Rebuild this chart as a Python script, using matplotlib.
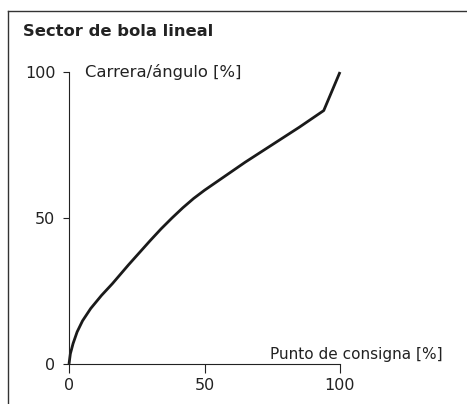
import matplotlib
matplotlib.use("Agg")
import matplotlib.pyplot as plt
from matplotlib.lines import Line2D

# Data
setpoint = [0, 0.5, 1.5, 3, 5, 8, 12, 16, 22, 30, 34, 38, 42, 46, 50, 55, 60, 65, 75, 85, 94, 100]
travel = [0, 3.5, 7, 11, 14.8, 19, 23.5, 27.5, 34, 42.3, 46.3, 50, 53.5, 56.7, 59.5, 62.7, 65.9, 69.1, 75.1, 81.1, 86.8, 100]
xticks = [0, 50, 100]
yticks = [0, 50, 100]
title = "Sector de bola lineal"
ylabel = "Carrera/ángulo [%]"
xlabel = "Punto de consigna [%]"

plt.rcParams['font.family'] = ['DejaVu Sans']
W, H = 467, 404
fig = plt.figure(figsize=(W / 100, H / 100), dpi=100)

x0, x1 = 69, 340
y0, y1 = 364, 72
ax = fig.add_axes([x0 / W, (H - y0) / H, (x1 - x0) / W, (y0 - y1) / H])
ax.set_xlim(0, 100)
ax.set_ylim(0, 100)
ax.patch.set_visible(False)

ax.plot(setpoint, travel, color='#1a1a1a', lw=2.0, clip_on=False, solid_capstyle='butt',
        solid_joinstyle='round')

for s in ['top', 'right']:
    ax.spines[s].set_visible(False)
for s in ['left', 'bottom']:
    ax.spines[s].set_linewidth(0.8)
    ax.spines[s].set_color('#222222')

ax.set_xticks(xticks)
ax.set_yticks(yticks)
ax.set_xticklabels([str(v) for v in xticks])
ax.set_yticklabels([str(v) for v in yticks])
ax.tick_params(axis='x', which='major', direction='out', length=6.5, width=0.8,
               color='#222222', pad=3.5, labelsize=11.5, labelcolor='#222222')
ax.tick_params(axis='y', which='major', direction='out', length=4.3, width=0.8,
               color='#222222', pad=5.5, labelsize=11.5, labelcolor='#222222')
ax.set_xticks([100], minor=True)
ax.set_yticks([100], minor=True)
ax.tick_params(axis='x', which='minor', direction='in', length=6.5, width=0.8, color='#222222')
ax.tick_params(axis='y', which='minor', direction='in', length=3.0, width=0.8, color='#222222')

ax.text(5.9, 100, ylabel, ha='left', va='center', fontsize=11.8, color='#222222', clip_on=False)
ax.text(138, 1.7, xlabel, ha='right', va='baseline', fontsize=11, color='#222222', clip_on=False)

fig.text(23 / W, 1 - 36 / H, title, ha='left', va='baseline', fontsize=11.8,
         fontweight='bold', color='#222222')

# frame lines
fig.add_artist(Line2D([8 / W, 1.0], [1 - 10.5 / H, 1 - 10.5 / H], color='#333333', lw=1.0,
                      transform=fig.transFigure))
fig.add_artist(Line2D([8 / W, 8 / W], [0, 1 - 10.5 / H], color='#333333', lw=1.0,
                      transform=fig.transFigure))

fig.savefig('out.png', dpi=100)
